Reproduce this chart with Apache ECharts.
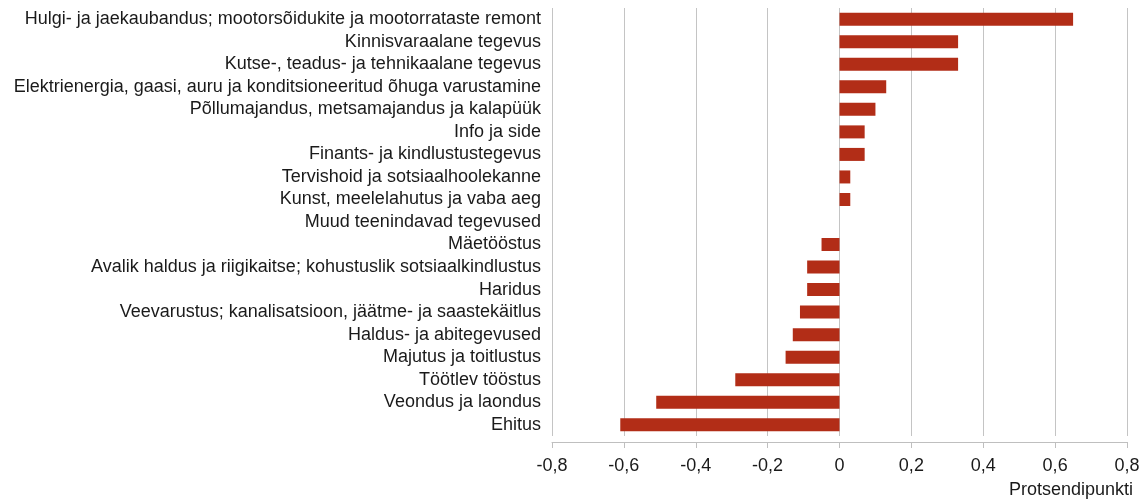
<!DOCTYPE html>
<html>
<head>
<meta charset="utf-8">
<script src="https://cdn.jsdelivr.net/npm/echarts@6/dist/echarts.min.js"></script>
<style>
html,body{margin:0;padding:0;background:#fff;}
#chart{width:1146px;height:503px;}
</style>
</head>
<body>
<div id="chart"></div>
<script>
const categories = [
  "Hulgi- ja jaekaubandus; mootorsõidukite ja mootorrataste remont",
  "Kinnisvaraalane tegevus",
  "Kutse-, teadus- ja tehnikaalane tegevus",
  "Elektrienergia, gaasi, auru ja konditsioneeritud õhuga varustamine",
  "Põllumajandus, metsamajandus ja kalapüük",
  "Info ja side",
  "Finants- ja kindlustustegevus",
  "Tervishoid ja sotsiaalhoolekanne",
  "Kunst, meelelahutus ja vaba aeg",
  "Muud teenindavad tegevused",
  "Mäetööstus",
  "Avalik haldus ja riigikaitse; kohustuslik sotsiaalkindlustus",
  "Haridus",
  "Veevarustus; kanalisatsioon, jäätme- ja saastekäitlus",
  "Haldus- ja abitegevused",
  "Majutus ja toitlustus",
  "Töötlev tööstus",
  "Veondus ja laondus",
  "Ehitus"
];
const values = [0.65, 0.33, 0.33, 0.13, 0.10, 0.07, 0.07, 0.03, 0.03, 0, -0.05, -0.09, -0.09, -0.11, -0.13, -0.15, -0.29, -0.51, -0.61];
const axisName = "Protsendipunkti";

const chart = echarts.init(document.getElementById('chart'), null, {renderer: 'canvas'});
const fontFamily = '"Liberation Sans", Arial, sans-serif';
chart.setOption({
  animation: false,
  backgroundColor: '#ffffff',
  grid: {left: 552, right: 19, top: 8, bottom: 67, containLabel: false},
  xAxis: {
    type: 'value',
    min: -0.8, max: 0.8, interval: 0.2,
    offset: 6,
    axisLine: {show: true, lineStyle: {color: '#bfbfbf', width: 1}},
    axisTick: {show: true, length: 6, lineStyle: {color: '#bfbfbf'}},
    splitLine: {show: true, lineStyle: {color: '#c4c4c4', width: 1}},
    axisLabel: {
      margin: 15,
      fontSize: 18,
      fontFamily: fontFamily,
      color: '#1a1a1a',
      formatter: function (v) {
        if (Math.abs(v) < 1e-9) return '0';
        return v.toFixed(1).replace('.', ',');
      }
    },
    name: axisName,
    nameLocation: 'end',
    nameGap: 6,
    nameTextStyle: {
      fontSize: 18,
      fontFamily: fontFamily,
      color: '#1a1a1a',
      align: 'right',
      verticalAlign: 'top',
      padding: [39, 0, 0, 0]
    }
  },
  yAxis: {
    type: 'category',
    data: categories,
    inverse: true,
    axisLine: {show: false},
    axisTick: {show: false},
    axisLabel: {
      interval: 0,
      margin: 11,
      fontSize: 18,
      fontFamily: fontFamily,
      color: '#1a1a1a'
    }
  },
  series: [{
    type: 'bar',
    data: values,
    barWidth: 13,
    itemStyle: {color: '#b22d17'}
  }]
});
</script>
</body>
</html>
